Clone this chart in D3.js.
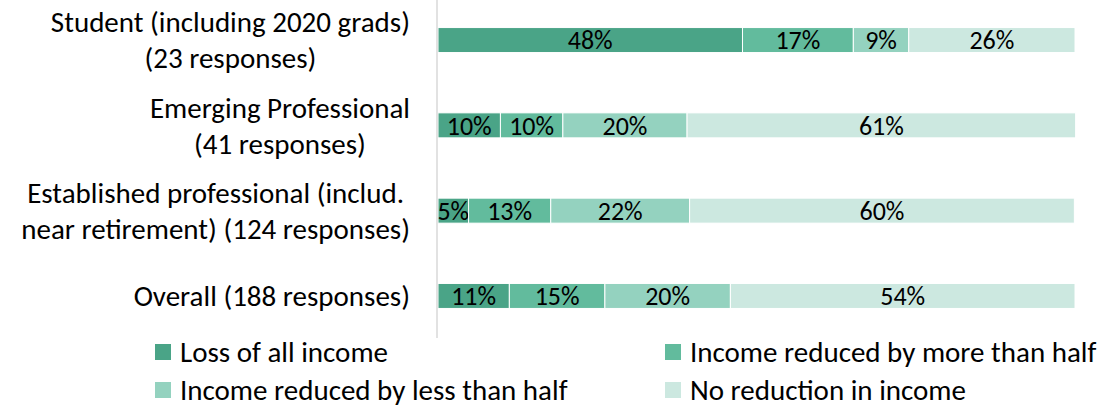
<!DOCTYPE html>
<meta charset="utf-8">
<style>
body { margin: 0; background: #fff; }
text { font-family: Carlito, Calibri, Lato, sans-serif; fill: #000; }
.cat { font-size: 29px; }
.val { font-size: 26px; }
.legend text { font-size: 29px; }
.axis-line { stroke: #d9d9d9; stroke-width: 1.5px; }
.seg { stroke: #fff; stroke-width: 1px; }
</style>
<svg width="1113" height="406"></svg>
<script src="https://cdn.jsdelivr.net/npm/d3@7"></script>
<script>

// categories, top to bottom
var categories = [
  ["Student (including 2020 grads)", "(23 responses)"],
  ["Emerging Professional", "(41 responses)"],
  ["Established professional (includ.", "near retirement) (124 responses)"],
  ["Overall (188 responses)"]
];

var series = [
  "Loss of all income",
  "Income reduced by more than half",
  "Income reduced by less than half",
  "No reduction in income"
];

// percent values per category, same order as series
var lossAll   = [47.8, 9.8, 4.8, 11.2];
var moreHalf  = [17.4, 9.8, 12.9, 15.0];
var lessHalf  = [8.7, 19.5, 21.8, 19.7];
var noReduce  = [26.1, 61.0, 60.4, 54.1];

var colors = ["#4aa487", "#62bb9d", "#94d2bf", "#cce8e0"];

var svg = d3.select("svg");

var rows = categories.map(function(c, i) {
  return { key: i, label: c, values: [lossAll[i], moreHalf[i], lessHalf[i], noReduce[i]] };
});

var x = d3.scaleLinear().domain([0, 100]).range([438, 1075]);
var y = d3.scaleBand()
    .domain(rows.map(function(d) { return d.key; }))
    .range([-2.6, 338.6])
    .paddingInner(0.707)
    .paddingOuter(0.3535);

var stack = d3.stack().keys([0, 1, 2, 3]).value(function(d, k) { return d.values[k]; });
var layers = stack(rows);

// bars
var g = svg.append("g");
layers.forEach(function(layer, k) {
  var lg = g.append("g");
  lg.selectAll("rect")
    .data(layer)
    .enter().append("rect")
      .attr("class", "seg")
      .attr("x", function(d) { return x(d[0]); })
      .attr("width", function(d) { return x(d[1]) - x(d[0]); })
      .attr("y", function(d) { return y(d.data.key); })
      .attr("height", y.bandwidth())
      .attr("fill", colors[k]);
  lg.selectAll("text")
    .data(layer)
    .enter().append("text")
      .attr("class", "val")
      .attr("x", function(d) { return (x(d[0]) + x(d[1])) / 2; })
      .attr("y", function(d) { return y(d.data.key) + y.bandwidth() / 2; })
      .attr("dy", "0.36em")
      .attr("text-anchor", "middle")
      .text(function(d) { return d3.format(".0f")(d.data.values[k]) + "%"; });
});

// vertical axis line
svg.append("line")
  .attr("class", "axis-line")
  .attr("x1", 437).attr("x2", 437)
  .attr("y1", 0).attr("y2", 338);

// category labels: block right-aligned, lines centred within it
var labelRight = 410, lineH = 36;
rows.forEach(function(r) {
  var cy = y(r.key) + y.bandwidth() / 2;
  var t = svg.append("text").attr("class", "cat").attr("text-anchor", "middle");
  var spans = r.label.map(function(line, j) {
    return t.append("tspan")
      .attr("y", cy + (j - (r.label.length - 1) / 2) * lineH)
      .attr("dy", "0.36em")
      .text(line);
  });
  var w = d3.max(spans, function(s) { return s.node().getComputedTextLength(); });
  spans.forEach(function(s) { s.attr("x", labelRight - w / 2); });
});

// legend
var legPos = [[155, 352], [665, 352], [155, 390], [665, 390]];
var leg = svg.append("g").attr("class", "legend");
series.forEach(function(s, k) {
  var p = legPos[k];
  leg.append("rect")
    .attr("x", p[0]).attr("y", p[1] - 8)
    .attr("width", 16).attr("height", 16)
    .attr("fill", colors[k]);
  leg.append("text")
    .attr("x", p[0] + 25).attr("y", p[1])
    .attr("dy", "0.36em")
    .text(s);
});

</script>
